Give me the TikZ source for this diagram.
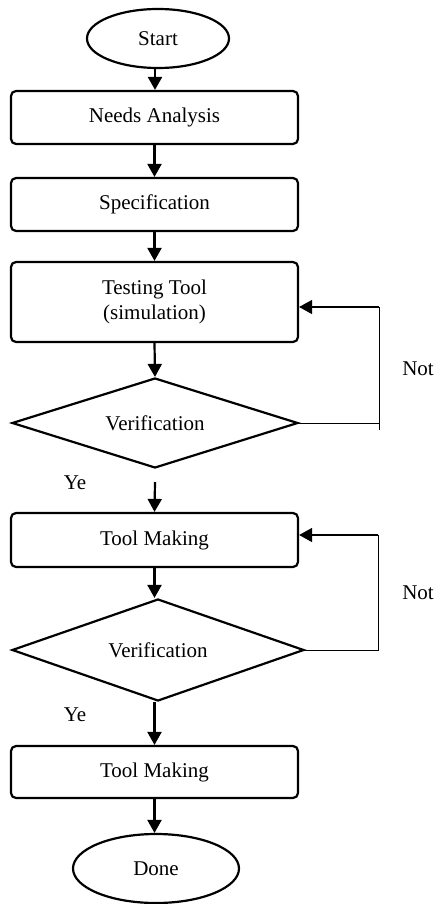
\documentclass[tikz,border=0pt]{standalone}
\usepackage{fontspec}
\setmainfont{Liberation Serif}
\usetikzlibrary{shapes.geometric,arrows.meta}
\begin{document}
\begin{tikzpicture}[x=1pt,y=-1pt,
  every node/.style={font=\fontsize{21}{25}\selectfont},
  boxstyle/.style={draw,line width=2.2pt,rounded corners=5pt,minimum width=287pt,inner sep=0pt,align=center},
  ovalstyle/.style={draw,ellipse,line width=2.2pt,inner sep=0pt},
  decstyle/.style={draw,diamond,line width=2.2pt,inner sep=0pt,shape aspect=3.2},
  flow/.style={line width=2.2pt,-{Triangle[length=13pt,width=14pt]}},
  backflow/.style={line width=1.5pt,-{Triangle[length=13pt,width=14pt]}},
  thinline/.style={line width=1pt}]
\useasboundingbox (0,0) rectangle (439,904);
\node[ovalstyle,minimum width=142pt,minimum height=59pt] (start) at (158,38.5) {Start};
\node[boxstyle,minimum height=53pt] (needs) at (154.5,117.5) {Needs Analysis};
\node[boxstyle,minimum height=53pt] (spec) at (154.5,204.5) {Specification};
\node[boxstyle,minimum height=80pt] (test) at (154.5,302) {Testing Tool\\(simulation)};
\node[decstyle,minimum width=286pt,minimum height=90pt] (ver1) at (155,423) {Verification};
\node[boxstyle,minimum height=54pt] (tool1) at (154.5,540) {Tool Making};
\node[decstyle,minimum width=292pt,minimum height=102pt] (ver2) at (158,650) {Verification};
\node[boxstyle,minimum height=52pt] (tool2) at (154.5,772) {Tool Making};
\node[ovalstyle,minimum width=166pt,minimum height=69pt] (done) at (156,868.5) {Done};
\node (not1) at (418,369) {Not};
\node (not2) at (418,593) {Not};
\node (ye1) at (75,483) {Ye};
\node (ye2) at (75,715) {Ye};
\coordinate (ya) at (155,482);
\coordinate (l1a) at (379,423);
\coordinate (l1b) at (379,430);
\coordinate (l1c) at (379,307);
\coordinate (l2a) at (378,650);
\coordinate (l2c) at (378,535);
\draw[flow] (155,68) -- (needs.north -| 155,0);
\draw[flow] (needs.south) -- (spec.north);
\draw[flow] (spec.south) -- (test.north);
\draw[flow] (test.south) -- (ver1.north);
\draw[flow] (ya) -- (tool1.north);
\draw[flow] (tool1.south) -- (ver2.north -| tool1.south);
\draw[flow] (ver2.south -| tool2.north) -- (tool2.north);
\draw[flow] (tool2.south) -- (done.north -| tool2.south);
\draw[thinline] (ver1.east) -- (l1a);
\draw[thinline] (l1b) -- (l1c);
\draw[backflow] (l1c) -- (test.east |- l1c);
\draw[thinline] (ver2.east) -- (l2a) -- (l2c);
\draw[backflow] (l2c) -- (tool1.east |- l2c);
\end{tikzpicture}
\end{document}
